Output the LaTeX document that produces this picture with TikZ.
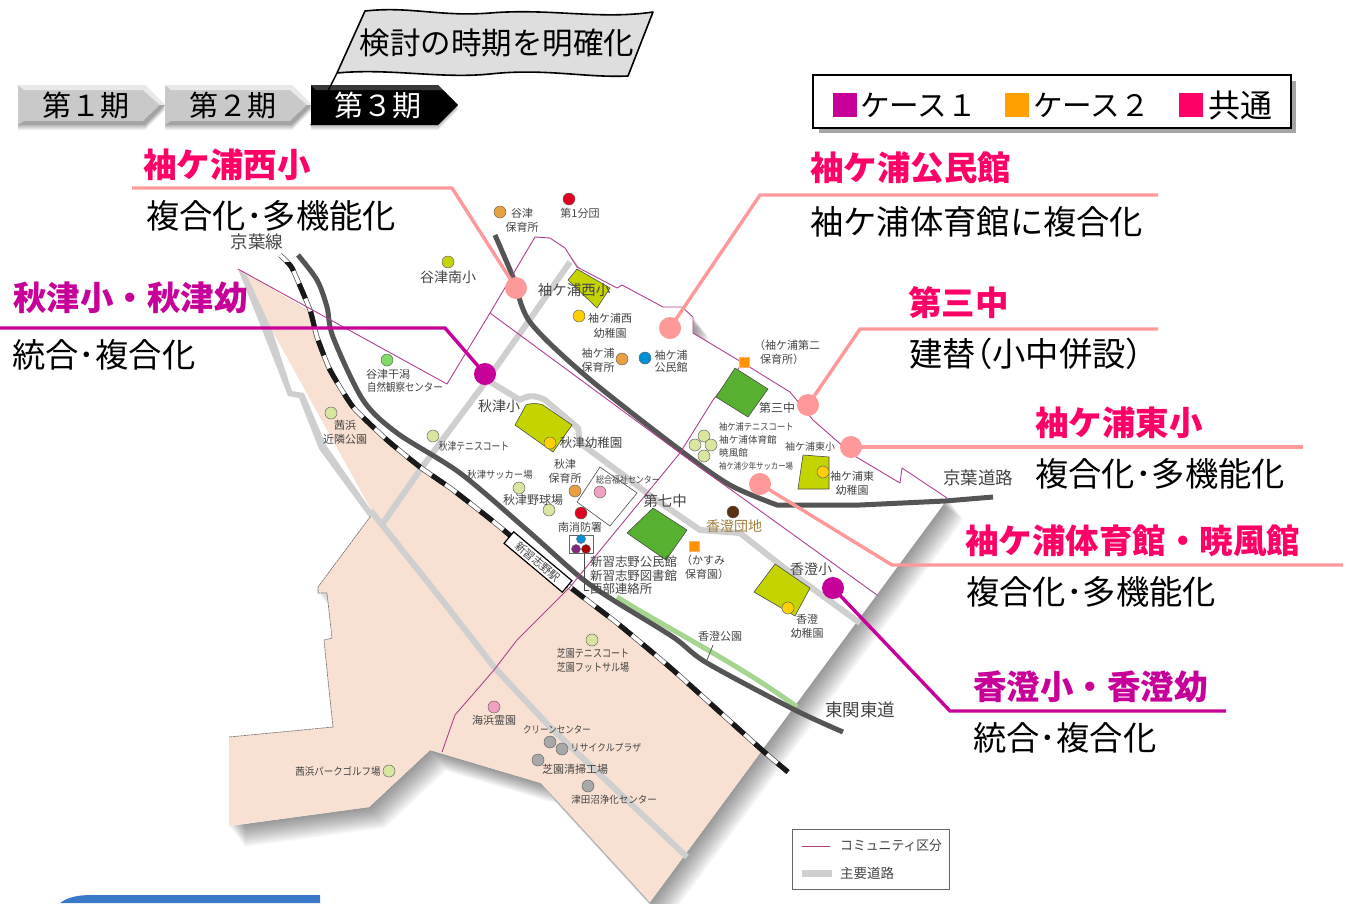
\documentclass[tikz,border=0pt]{standalone}
\usepackage{fontspec}
\usepackage{graphicx}
\setmainfont{Noto Sans CJK JP}
\newcounter{mapc}
\definecolor{pk}{HTML}{FF0066}
\definecolor{pkl}{HTML}{FF9999}
\definecolor{mg}{HTML}{C8009A}
\definecolor{peach}{HTML}{F8E1D2}
\definecolor{road}{HTML}{CFCFCF}
\definecolor{dkroad}{HTML}{555555}
\definecolor{comm}{HTML}{B0408F}
\definecolor{schl}{HTML}{C4D400}
\definecolor{jhs}{HTML}{58B030}
\definecolor{ylw}{HTML}{FFD000}
\definecolor{org}{HTML}{E8A040}
\definecolor{lgrn}{HTML}{D8E6A0}
\definecolor{txt}{HTML}{444444}
\definecolor{grnstrip}{HTML}{A5D590}
\definecolor{chev}{HTML}{C9C9C9}
\definecolor{flagc}{HTML}{DEDEDE}
\definecolor{sqorg}{HTML}{FFA000}
\definecolor{blueb}{HTML}{3A78C8}
\definecolor{pinkdot}{HTML}{F0A0C0}
\definecolor{graydot}{HTML}{A8A8A8}
\definecolor{bluedot}{HTML}{0090D8}
\definecolor{reddot}{HTML}{E00020}
\definecolor{browndot}{HTML}{5A3010}
\definecolor{golden}{HTML}{A08040}
\tikzset{
  head/.style={anchor=west,inner sep=0pt,font=\bfseries\fontsize{33.5}{33.5}\selectfont},
  body/.style={anchor=west,inner sep=0pt,text=black,font=\fontsize{33.3}{33.3}\selectfont},
  periodlabel/.style={inner sep=0pt,font=\fontsize{29}{29}\selectfont},
  legtext/.style={anchor=west,inner sep=0pt,text=black,font=\fontsize{29.6}{29.6}\selectfont},
  legsq/.style={inner sep=0pt,minimum size=24pt},
  maptext/.style={inner sep=0pt,text=txt,font=\fontsize{11}{11}\selectfont},
  leader/.style={line width=3.4pt,line join=miter},
  calldot/.style={circle,inner sep=0pt,minimum size=22pt},
  mapdot/.style={circle,draw=black!60,line width=.5pt,inner sep=0pt,minimum size=12pt},
  minidot/.style={mapdot,minimum size=9pt},
  commline/.style={draw=comm,line width=.9pt,line join=round},
  roadline/.style={draw=road,line width=6pt,line join=round},
  dkline/.style={draw=dkroad,line width=5pt,line join=round},
  bldg/.style={draw=black!70,line width=.6pt,line join=round},
}
\newcommand{\mt}[4][11]{\stepcounter{mapc}\node[maptext,font=\fontsize{#1}{#1}\selectfont] (mt\themapc) at (#2,#3) {#4};}
% condensed text: [size]{x}{y}{xfactor}{text}
\newcommand{\mtc}[5][11]{\stepcounter{mapc}\node[maptext,font=\fontsize{#1}{#1}\selectfont] (mt\themapc) at (#2,#3) {\scalebox{#4}[1]{#5}};}
\newcommand{\mtw}[5][11]{\stepcounter{mapc}\node[maptext,anchor=west,font=\fontsize{#1}{#1}\selectfont] (mt\themapc) at (#2,#3) {\scalebox{#4}[1]{#5}};}
\newcommand{\md}[3]{\stepcounter{mapc}\node[mapdot,fill=#3] (md\themapc) at (#1,#2) {};}
\begin{document}
\begin{tikzpicture}[x=1pt,y=-1pt]
\useasboundingbox (0,0) rectangle (1346,903);
\def\mapoutline{(535,237) -- (550,238) -- (565,248) -- (577,267) -- (617,288) -- (622,285) -- (663,307) -- (682,307) -- (693,317) -- (693,333) -- (743,363) -- (790,392) -- (813,420) -- (853,455) -- (900,483) -- (902,468) -- (947,498) -- (943,505) -- (650,902) -- (541,783) -- (430,750) -- (369,807) -- (229,826) -- (229,737) -- (333,727) -- (328,680) -- (324,640) -- (332,638) -- (327,593) -- (318,593) -- (318,587) -- (373,513) -- (238,269) -- (447,384) -- (490,313) -- cycle}
% map shadow
\foreach \s in {1,...,16}{
  \fill[black,opacity=.032,shift={(1*\s,1.3*\s)}] \mapoutline;
}
\fill[white] \mapoutline;
% peach land
\fill[peach] (238,269) -- (313,313) -- (317,337) -- (330,370) -- (353,407) -- (387,440) -- (420,467) -- (453,490) -- (500,527) -- (570,587) -- (617,623) -- (673,670) -- (762,750) -- (650,902) -- (541,783) -- (430,750) -- (369,807) -- (229,826) -- (229,737) -- (333,727) -- (328,680) -- (324,640) -- (332,638) -- (327,593) -- (318,593) -- (318,587) -- (373,513) -- cycle;
\draw[black!55,line width=.6pt,dash pattern=on 3pt off .6pt] (229,737) -- (333,727) -- (328,680) -- (324,640) -- (332,638) -- (327,593) -- (318,593) -- (318,587) -- (373,513);
% roads
\fill[road] (238,269) -- (247,276) -- (272,330) -- (292,391) -- (304,393) -- (326,445) -- (373,513) -- (369,517) -- (319,449) -- (299,398) -- (288,396) -- (263,332) -- cycle;
\draw[roadline] (371,511) -- (442,600) -- (494,667) -- (550,727) -- (687,857);
\draw[roadline] (570,262) -- (528,322) -- (487,380) -- (420,470) -- (383,523);
\draw[roadline] (487,380) -- (520,400) .. controls (528,395) and (535,395) .. (545,400) -- (578,428) -- (580,443) -- (630,480) -- (652,497) -- (700,530) -- (740,533) -- (783,567) -- (860,623);
% green strip
\draw[grnstrip,line width=5pt] (617,597) .. controls (670,630) and (740,665) .. (797,707);
% dark roads
\draw[dkline] plot[smooth,tension=.5] coordinates {(495,235) (513,277) (530,322) (587,377) (680,450) (730,485) (777,505)} -- (860,505) -- (945,501) -- (993,497);
\draw[dkline] plot[smooth,tension=.5] coordinates {(298,255) (317,280) (327,307) (333,337) (363,400) (397,433) (460,473) (527,530) (580,577) (613,600) (673,637) (707,663) (795,710) (843,732)};
% railway
\def\railpath{plot[smooth,tension=.3] coordinates {(280,255) (292,268) (310,310) (317,337) (330,370) (353,407) (387,440) (420,467) (453,490) (500,527) (570,587) (617,623) (673,670) (762,750) (788,772)}}
\draw[black!70,line width=5pt] \railpath;
\draw[white,line width=3.6pt] \railpath;
\begin{scope}
\clip (285,262) rectangle (800,790);
\draw[black!90,line width=5pt,dash pattern=on 16pt off 14pt,dash phase=-5pt] \railpath;
\end{scope}
% community lines
\draw[commline] (238,269) -- (447,384) -- (490,313) -- (535,237) -- (550,238) -- (565,248) -- (577,267) -- (617,288) -- (622,285) -- (663,307) -- (682,307) -- (693,317) -- (693,333) -- (743,363) -- (790,392) -- (813,420) -- (853,455) -- (900,483) -- (902,468) -- (947,498);
\draw[commline] (490,313) -- (680,453) -- (877,595);
\draw[commline] (743,363) -- (713,400) -- (680,453) -- (570,587) -- (557,600) -- (517,640) -- (494,670) -- (455,715) -- (442,752);
% buildings & school grounds
\draw[bldg,fill=schl] (577,269) -- (610,288) -- (597,308) -- (568,280) -- cycle;
\draw[bldg,fill=schl] (526,405) .. controls (530,403) and (538,403) .. (543,405) -- (572,425) -- (553,452) -- (515,425) -- cycle;
\draw[bldg,fill=jhs] (735,368) -- (768,389) -- (748,417) -- (716,397) -- cycle;
\draw[bldg,fill=schl] (803,455) -- (829,457) -- (829,489) -- (798,489) -- cycle;
\draw[bldg,fill=jhs] (653,508) -- (687,530) -- (666,560) -- (627,533) -- cycle;
\draw[bldg,fill=schl] (775,564) -- (810,588) -- (795,616) -- (754,592) -- cycle;
\draw[bldg,fill=white] (600,467) -- (637,493) -- (610,526) -- (577,502) -- cycle;
\draw[black!60,fill=white,line width=.6pt] (569,535) rectangle (593,553);
\draw[black!70,line width=.7pt] (584,553) -- (584,590) -- (589,590);
\draw[black!70,line width=.7pt] (713,645) -- (707,660);
% station
\node[draw=black,fill=white,line width=1.2pt,rotate=-40,minimum width=76pt,minimum height=15pt,inner sep=0pt,text=txt,font=\fontsize{11}{11}\selectfont] (station) at (538,562) {新習志野駅};
% map dots
\md{500}{212}{org}\md{569}{199}{reddot}\md{448}{262}{schl}
\md{579}{316}{ylw}\md{622}{359}{org}\md{645}{358}{bluedot}
\md{704}{436}{lgrn}\md{695}{445}{lgrn}\md{711}{445}{lgrn}\md{704}{456}{lgrn}
\md{823}{472}{ylw}\md{387}{360}{green!40!lgrn!80!gray}\md{331}{413}{lgrn}
\md{433}{436}{lgrn}\md{550}{443}{ylw}\md{575}{491}{org}\md{519}{488}{lgrn}
\md{549}{510}{lgrn}\md{600}{492}{pinkdot}\md{581}{513}{reddot}
\node[minidot,fill=bluedot] (mini1) at (581,539) {};
\node[minidot,fill=violet!70!gray] (mini2) at (576,549) {};
\node[minidot,fill=red!70!black] (mini3) at (586,549) {};
\md{733}{512}{browndot}\md{788}{608}{ylw}\md{592}{640}{lgrn}
\md{494}{707}{pinkdot}\md{550}{742}{graydot}\md{562}{749}{graydot}
\md{538}{760}{graydot}\md{588}{786}{graydot}\md{389}{771}{lgrn}
\node[draw=orange!60,fill=orange!85!yellow,minimum size=10pt,inner sep=0pt] (sq1) at (744,362) {};
\node[draw=orange!60,fill=orange!85!yellow,minimum size=10pt,inner sep=0pt] (sq2) at (694,546) {};
% map texts
\mt[17.5]{257}{242}{京葉線}
\mt{522}{213}{谷津}\mt{522}{227}{保育所}\mt{580}{213}{第1分団}
\mt[14]{448}{277}{谷津南小}\mt[14.5]{574}{290}{袖ケ浦西小}
\mt{610}{318}{袖ケ浦西}\mt{610}{333}{幼稚園}
\mt{598}{353}{袖ケ浦}\mt{598}{367}{保育所}\mt{671}{355}{袖ケ浦}\mt{671}{367}{公民館}
\mt{787}{345}{（袖ケ浦第二}\mt{782}{359}{保育所）}
\mt[12]{777}{408}{第三中}
\mtw[9.6]{719}{427}{.86}{袖ケ浦テニスコート}
\mtw[9.6]{719}{440}{1}{袖ケ浦体育館}
\mtw[9.6]{719}{453}{1}{暁風館}
\mtw[8.8]{719}{466}{.84}{袖ケ浦少年サッカー場}
\mt[10]{810}{447}{袖ケ浦東小}
\mt{852}{476}{袖ケ浦東}\mt{852}{490}{幼稚園}
\mt[17.5]{978}{478}{京葉道路}
\mt{388}{374}{谷津干潟}\mtc{405}{387}{.86}{自然観察センター}
\mt{345}{425}{茜浜}\mt{345}{439}{近隣公園}
\mtc{474}{446}{.8}{秋津テニスコート}
\mt[14]{499}{406}{秋津小}\mt[12.5]{591}{443}{秋津幼稚園}
\mt{565}{464}{秋津}\mt{565}{478}{保育所}
\mtc[10]{500}{475}{.93}{秋津サッカー場}\mt[12]{533}{500}{秋津野球場}
\mtc[9.5]{628}{480}{.84}{総合福祉センター}
\mt{580}{527}{南消防署}
\mtw[12.4]{590}{562}{1}{新習志野公民館}
\mtw[12.4]{590}{576}{1}{新習志野図書館}
\mtw[12.4]{590}{589}{1}{西部連絡所}
\mt[14.5]{665}{501}{第七中}
\mt{703}{560}{（かすみ}\mt{707}{574}{保育園）}
\node[maptext,text=golden,font=\fontsize{14}{14}\selectfont] (kasumi) at (734,526) {香澄団地};
\mt[14]{811}{569}{香澄小}
\mt{807}{619}{香澄}\mt{807}{633}{幼稚園}
\mt{720}{636}{香澄公園}
\mt[17.5]{860}{710}{東関東道}
\mtc{593}{653}{.82}{芝園テニスコート}\mtc{593}{667}{.82}{芝園フットサル場}
\mt{494}{720}{海浜霊園}\mtc[10]{557}{730}{.85}{クリーンセンター}
\mtc[10]{606}{748}{.89}{リサイクルプラザ}\mt{575}{769}{芝園清掃工場}\mtc[10]{614}{800}{.95}{津田沼浄化センター}
\mtc[10.5]{338}{771}{.9}{茜浜パークゴルフ場}
% map legend
\node[draw=black!60,fill=white,line width=.8pt,minimum width=157pt,minimum height=60pt,inner sep=0pt] (maplegend) at (870.5,859) {};
\coordinate (la) at (802,846);\coordinate (lb) at (830,846);
\coordinate (lc) at (802,873);\coordinate (ld) at (832,873);
\draw[commline] (la) -- (lb);
\draw[roadline,line width=7pt] (lc) -- (ld);
\mtw[13.5]{840}{846}{.95}{コミュニティ区分}
\mtw[13.5]{840}{873}{1}{主要道路}
% callouts
\node[calldot,fill=pkl] (d1) at (516,288) {};
\coordinate (a1) at (132,188);\coordinate (b1) at (452,188);
\draw[leader,pkl] (a1) -- (b1) -- (d1.center);
\node[head,text=pk] (h1) at (143,165) {袖ケ浦西小};
\node[body] (t1) at (146,216) {複合化･多機能化};
\node[calldot,fill=pkl] (d2) at (670,328) {};
\coordinate (a2) at (1158,195);\coordinate (b2) at (760,195);
\draw[leader,pkl] (a2) -- (b2) -- (d2.center);
\node[head,text=pk] (h2) at (810,168) {袖ケ浦公民館};
\node[body] (t2) at (810,222) {袖ケ浦体育館に複合化};
\node[calldot,fill=pkl] (d3) at (808,405) {};
\coordinate (a3) at (1158,329);\coordinate (b3) at (860,329);
\draw[leader,pkl] (a3) -- (b3) -- (d3.center);
\node[head,text=pk] (h3) at (908,303) {第三中};
\node[body] (t3) at (909,354) {建替\kern-16.5pt（小中併設）};
\node[calldot,fill=pkl] (d4) at (851,447) {};
\coordinate (a4) at (1303,447);
\draw[leader,pkl] (a4) -- (d4.center);
\node[head,text=pk] (h4) at (1035,423) {袖ケ浦東小};
\node[body] (t4) at (1035,474) {複合化･多機能化};
\node[calldot,fill=pkl] (d5) at (760,484) {};
\coordinate (a5) at (1343,565);\coordinate (b5) at (892,565);
\draw[leader,pkl] (a5) -- (b5) -- (d5.center);
\node[head,text=pk] (h5) at (965,541) {袖ケ浦体育館・暁風館};
\node[body] (t5) at (966,592) {複合化･多機能化};
\node[calldot,fill=mg] (d6) at (833,588) {};
\coordinate (a6) at (1226,711);\coordinate (b6) at (950,711);
\draw[leader,mg] (a6) -- (b6) -- (d6.center);
\node[head,text=mg] (h6) at (973,687) {香澄小・香澄幼};
\node[body] (t6) at (973,738) {統合･複合化};
\node[calldot,fill=mg] (d7) at (485,374) {};
\coordinate (a7) at (0,328);\coordinate (b7) at (445,328);
\draw[leader,mg] (a7) -- (b7) -- (d7.center);
\node[head,text=mg] (h7) at (13,298) {秋津小・秋津幼};
\node[body] (t7) at (12,355) {統合･複合化};
% period arrows
\foreach \s in {1,2,3,4,5}{
  \fill[black,opacity=.06,shift={(0,\s)}] (18,85) -- (145,85) -- (165,105) -- (145,125) -- (18,125) -- cycle;
  \fill[black,opacity=.06,shift={(147,\s)}] (18,85) -- (145,85) -- (165,105) -- (145,125) -- (18,125) -- cycle;
  \fill[black,opacity=.06,shift={(0,\s)}] (311,85) -- (438,85) -- (458,105) -- (438,125) -- (311,125) -- cycle;
}
\foreach \dx in {0,147}{
  \fill[chev,shift={(\dx,0)}] (18,85) -- (145,85) -- (165,105) -- (145,125) -- (18,125) -- cycle;
  \fill[white,opacity=.6,shift={(\dx,0)}] (18,85) -- (145,85) -- (165,105) -- (160,105) -- (143,90) -- (24,90) -- cycle;
  \fill[black,opacity=.18,shift={(\dx,0)}] (18,125) -- (145,125) -- (165,105) -- (160,105) -- (143,121) -- (24,121) -- cycle;
}
\fill[black] (311,85) -- (438,85) -- (458,105) -- (438,125) -- (311,125) -- cycle;
\fill[white,opacity=.22] (311,85) -- (438,85) -- (444,90) -- (316,90) -- cycle;
\node[periodlabel,text=black] (p1) at (86,105) {第１期};
\node[periodlabel,text=black] (p2) at (233,105) {第２期};
\node[periodlabel,text=white] (p3) at (378,105) {第３期};
% flag
\draw[black,line width=1.4pt] (337,73) -- (311,125);
\draw[black,line width=1.6pt,fill=flagc,line join=round] (365,11) .. controls (410,6) and (440,17) .. (490,13) .. controls (550,8) and (600,20) .. (653,12) -- (628,76) .. controls (585,78) and (545,68) .. (490,74) .. controls (440,79) and (390,68) .. (337,73) -- cycle;
\node[inner sep=0pt,text=black,font=\fontsize{30.5}{30.5}\selectfont] (flagt) at (497,43) {検討の時期を明確化};
% case legend
\fill[black!70,opacity=.5] (819,81) rectangle (1296,133);
\node[draw=black,fill=white,line width=1.3pt,minimum width=478pt,minimum height=53pt,inner sep=0pt] (caselegend) at (1052,101.5) {};
\node[legsq,fill=mg] (s1) at (844.5,104.5) {};
\node[legtext] (c1) at (860,105) {ケース１};
\node[legsq,fill=sqorg] (s2) at (1017,104.5) {};
\node[legtext] (c2) at (1033,105) {ケース２};
\node[legsq,fill=pk] (s3) at (1190.5,104.5) {};
\node[legtext,font=\fontsize{32}{32}\selectfont] (c3) at (1208,105) {共通};
% blue block bottom-left
\fill[blueb] (60,903) .. controls (68,897) and (78,895) .. (92,895) -- (320,895) -- (320,903) -- cycle;
\end{tikzpicture}
\end{document}
